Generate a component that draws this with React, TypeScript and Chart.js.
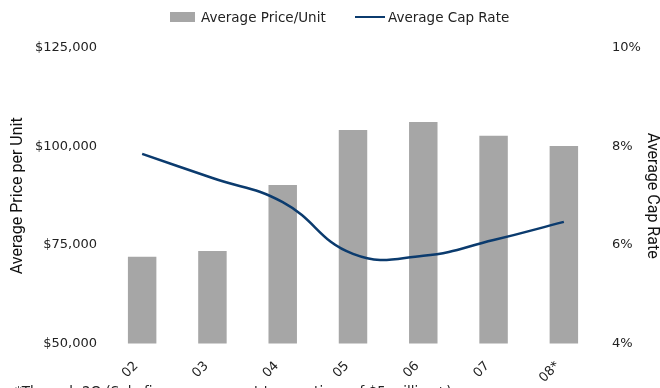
import React, { useEffect, useRef } from "react";
import { Chart, registerables } from "chart.js";

Chart.register(...registerables);

const categories = ["02", "03", "04", "05", "06", "07", "08*"];
const pricePerUnit = [72000, 73500, 90200, 104200, 106200, 102700, 100100];
const capRate = [7.85, 7.36, 6.87, 5.82, 5.78, 6.1, 6.47];
const priceTicks = { min: 50000, max: 125000, step: 25000 };
const rateTicks = { min: 4, max: 10, step: 2 };
const seriesNames = ["Average Price/Unit", "Average Cap Rate"];
const axisTitles = ["Average Price per Unit", "Average Cap Rate"];
const footnote = "*Through 2Q (Sale figures represent transactions of $5 million+)";

const GRAY = "#A6A6A6";
const NAVY = "#0B3B6E";
const TEXT = "#222222";
const TICK_FONT = { family: "'DejaVu Sans', sans-serif", size: 13 };
const TITLE_FONT = { family: "Roboto, sans-serif", size: 16 };

export default function App() {
  const ref = useRef<HTMLCanvasElement>(null);

  useEffect(() => {
    const chart = new Chart(ref.current as HTMLCanvasElement, {
      type: "bar",
      data: {
        labels: categories,
        datasets: [
          {
            type: "line",
            label: seriesNames[1],
            data: capRate,
            yAxisID: "y1",
            borderColor: NAVY,
            backgroundColor: NAVY,
            borderWidth: 2.5,
            pointRadius: 0,
            tension: 0.45,
            order: 0,
          } as any,
          {
            type: "bar",
            label: seriesNames[0],
            data: pricePerUnit,
            yAxisID: "y",
            backgroundColor: GRAY,
            categoryPercentage: 1,
            barPercentage: 0.405,
            order: 1,
          } as any,
        ],
      },
      options: {
        responsive: false,
        animation: false,
        layout: { padding: { top: 48, left: 0, right: 0, bottom: 0 } },
        plugins: { legend: { display: false }, tooltip: { enabled: false } },
        scales: {
          x: {
            grid: { display: false, drawTicks: false },
            border: { display: false },
            ticks: {
              minRotation: 45,
              maxRotation: 45,
              padding: 15,
              labelOffset: -6,
              color: TEXT,
              font: TICK_FONT,
            },
            afterFit: (s: any) => {
              s.height = 44.5;
            },
          },
          y: {
            position: "left",
            min: priceTicks.min,
            max: priceTicks.max,
            grid: { display: false, drawTicks: false },
            border: { display: false },
            ticks: {
              stepSize: priceTicks.step,
              padding: 10,
              color: TEXT,
              font: TICK_FONT,
              callback: (v: any) => "$" + Number(v).toLocaleString("en-US"),
            },
            title: {
              display: true,
              text: axisTitles[0],
              color: "#111",
              font: { ...TITLE_FONT, lineHeight: 1.2 },
              padding: { top: 8, bottom: 0 },
            },
            afterFit: (s: any) => {
              s.width = 107;
            },
          },
          y1: {
            position: "right",
            min: rateTicks.min,
            max: rateTicks.max,
            grid: { display: false, drawTicks: false },
            border: { display: false },
            ticks: {
              stepSize: rateTicks.step,
              padding: 13,
              color: TEXT,
              font: TICK_FONT,
              callback: (v: any) => v + "%",
            },
            title: {
              display: true,
              text: axisTitles[1],
              color: "#111",
              font: { ...TITLE_FONT, lineHeight: 1 },
              padding: { top: 0, bottom: 0 },
            },
            afterFit: (s: any) => {
              s.width = 61;
            },
          },
        },
      } as any,
    });
    return () => chart.destroy();
  }, []);

  const legendText: React.CSSProperties = {
    position: "absolute",
    top: 9,
    fontFamily: "'DejaVu Sans', sans-serif",
    fontSize: 13.5,
    lineHeight: "16px",
    color: TEXT,
    whiteSpace: "nowrap",
  };

  return (
    <div
      style={{
        position: "fixed",
        left: 0,
        top: 0,
        width: 660,
        height: 388,
        overflow: "hidden",
        background: "#fff",
      }}
    >
      <canvas ref={ref} width={660} height={388} style={{ display: "block" }} />
      <div style={{ position: "absolute", left: 170, top: 12, width: 25, height: 10, background: GRAY }} />
      <div style={{ ...legendText, left: 201 }}>{seriesNames[0]}</div>
      <div style={{ position: "absolute", left: 355, top: 16, width: 30, height: 2, background: NAVY }} />
      <div style={{ ...legendText, left: 388 }}>{seriesNames[1]}</div>
      <div
        style={{
          position: "absolute",
          left: 15,
          top: 383,
          fontFamily: "'DejaVu Sans', sans-serif",
          fontSize: 13.5,
          lineHeight: "16px",
          color: TEXT,
          whiteSpace: "nowrap",
        }}
      >
        {footnote}
      </div>
    </div>
  );
}
